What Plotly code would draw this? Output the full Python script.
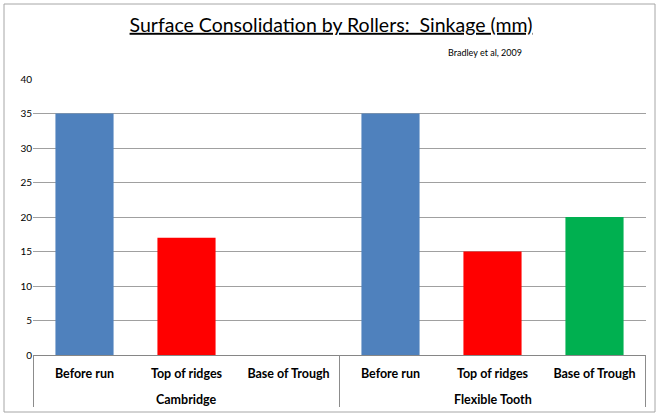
import plotly.graph_objects as go

rollers = ["Cambridge", "Cambridge", "Cambridge",
           "Flexible Tooth", "Flexible Tooth", "Flexible Tooth"]
positions = ["Before run", "Top of ridges", "Base of Trough",
             "Before run", "Top of ridges", "Base of Trough"]
sinkage = [35, 17, 0, 35, 15, 20]
bar_colors = ["#4F81BD", "#FF0000", "#00B050",
              "#4F81BD", "#FF0000", "#00B050"]
y_ticks = [0, 5, 10, 15, 20, 25, 30, 35, 40]

font_family = "Lato, Open Sans, sans-serif"

# plot area in pixels: x 33..646, y 79..355
pw, ph = 613, 276

keys = [r + " | " + p for r, p in zip(rollers, positions)]
groups = list(dict.fromkeys(rollers))

fig = go.Figure()
fig.add_trace(
    go.Bar(
        x=keys,
        y=sinkage,
        marker=dict(color=bar_colors, line=dict(width=0)),
        showlegend=False,
    )
)

annotations = [
    dict(
        text="Bradley et al, 2009",
        xref="paper", yref="paper",
        x=(446 - 33) / pw, y=(355 - 52) / ph,
        xanchor="left", yanchor="middle",
        showarrow=False,
        font=dict(family=font_family, size=9, color="#000000"),
    )
]
shapes = [
    dict(
        type="rect", xref="paper", yref="paper",
        x0=-29 / pw, x1=622 / pw, y0=-57 / ph, y1=351 / ph,
        line=dict(color="#A6A6A6", width=1),
        fillcolor="rgba(0,0,0,0)",
        layer="above",
    )
]

# outer category level: group labels and divider lines
start = 0
for g in groups:
    n = rollers.count(g)
    annotations.append(
        dict(
            text="<b>" + g + "</b>",
            xref="x", yref="paper",
            x=keys[start + n // 2], y=-44 / ph,
            xanchor="center", yanchor="middle",
            showarrow=False,
            font=dict(family=font_family, size=12.5, color="#000000"),
        )
    )
    start += n
edge = -0.5
for g in [None] + groups:
    if g is not None:
        edge += rollers.count(g)
    shapes.append(
        dict(
            type="line", xref="x", yref="paper",
            x0=edge, x1=edge, y0=0, y1=-52 / ph,
            line=dict(color="#8C8C8C", width=1),
        )
    )

fig.update_layout(
    width=660,
    height=416,
    margin=dict(l=33, r=14, t=79, b=61),
    paper_bgcolor="white",
    plot_bgcolor="white",
    bargap=0.43,
    font=dict(family=font_family, size=11, color="#000000"),
    title=dict(
        text='<span style="text-decoration:underline">Surface Consolidation by Rollers:  Sinkage (mm)</span>',
        x=331 / 660,
        xanchor="center",
        y=1 - 25 / 416,
        yanchor="middle",
        font=dict(family=font_family, size=19.5, color="#000000"),
    ),
    annotations=annotations,
    shapes=shapes,
)

fig.update_yaxes(
    range=[0, 40],
    tickvals=y_ticks,
    showgrid=True,
    gridcolor="#A0A0A0",
    gridwidth=1,
    zeroline=False,
    showline=False,
    ticks="",
    tickfont=dict(size=10, color="#000000"),
)
fig.update_xaxes(
    type="category",
    tickvals=keys,
    ticktext=["<b>" + p + "</b>" for p in positions],
    ticklabelstandoff=7,
    showline=True,
    linecolor="#868686",
    linewidth=1,
    showgrid=False,
    ticks="",
    tickfont=dict(size=12.5, color="#000000"),
)

fig.write_html(
    "out.html",
    config={"displayModeBar": False},
    post_script="document.body.style.margin='0px';",
)
